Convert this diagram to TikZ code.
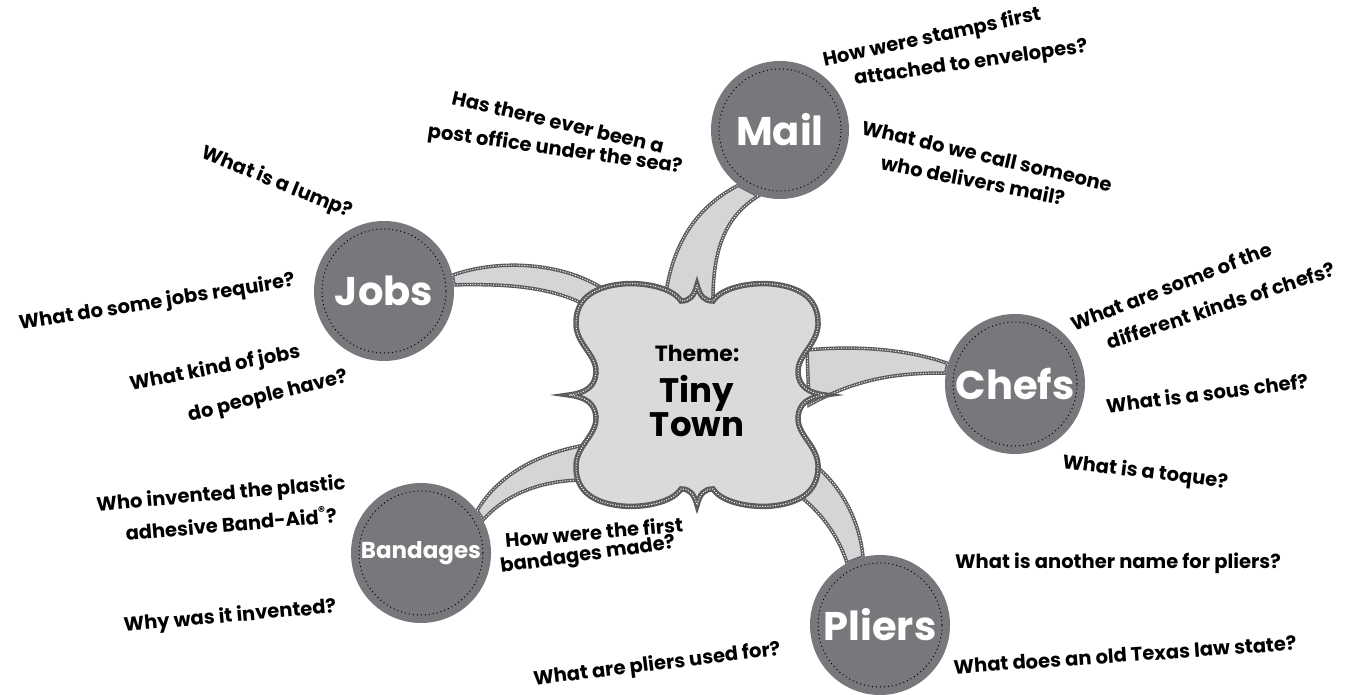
\documentclass[tikz,border=0pt]{standalone}
\usepackage{fontspec}
\setmainfont{Poppins}
\usetikzlibrary{positioning,backgrounds}
\definecolor{circgray}{HTML}{77787B}
\definecolor{cloudfill}{HTML}{D9DADC}
\definecolor{edgegray}{HTML}{5C5C5F}
\definecolor{spokefill}{HTML}{D4D5D7}

\begin{document}
\begin{tikzpicture}[x=1pt,y=1pt,
  topic/.style={circle,fill=circgray,inner sep=0pt,text=white,font=\fontsize{40}{44}\selectfont\bfseries},
  ring/.style={black,line width=1pt,dash pattern=on 1pt off 3pt},
  spoke/.style={fill=spokefill,draw=edgegray,line width=3.5pt},
  cloudline/.style={fill=cloudfill,draw=edgegray,line width=5.5pt},
  stitch/.style={draw=white,line width=1pt,dash pattern=on 1pt off 1.6pt},
  quest/.style={font=\fontsize{19.5}{22}\selectfont\bfseries,inner sep=0pt},
  theme/.style={font=\fontsize{#1}{#1}\selectfont\bfseries,inner sep=0pt,anchor=base}]
\useasboundingbox (0,0) rectangle (1348,695);
\clip (0,0) rectangle (1348,695);
\coordinate (hub) at (697,300);

\node[topic,minimum size=138pt] (mail) at (780,565) {Mail};
\node[topic,minimum size=140pt] (jobs) at (384,404) {Jobs};
\node[topic,minimum size=140pt] (chefs) at (1015,311) {Chefs};
\node[topic,minimum size=140pt,font=\fontsize{23}{26}\selectfont\bfseries] (band) at (421,142) {Bandages};
\node[topic,minimum size=140pt] (pliers) at (880,70) {Pliers};
\foreach \n/\r in {mail/61,jobs/62,chefs/62,band/62,pliers/62}
  \draw[ring] (\n.center) circle (\r);

\begin{scope}[on background layer]
\foreach \st in {spoke,stitch} {
\path[\st] ([shift={(-32,95)}]hub) .. controls (672,455) and (700,490) .. (mail.233)
  -- (mail.252) .. controls (728,480) and (712,450) .. ([shift={(16,90)}]hub) -- cycle;
\path[\st] (jobs.13) .. controls (500,437) and (570,433) .. ([shift={(-85,100)}]hub)
  -- ([shift={(-108,88)}]hub) .. controls (550,410) and (500,411) .. (jobs.5) -- cycle;
\path[\st] ([shift={(110,45)}]hub) .. controls (860,350) and (910,345) .. (chefs.163)
  -- (chefs.171) .. controls (900,322) and (860,318) .. ([shift={(112,-10)}]hub) -- cycle;
\path[\st] (band.37) .. controls (495,215) and (530,240) .. ([shift={(-112,-50)}]hub)
  -- ([shift={(-112,-85)}]hub) .. controls (540,215) and (505,200) .. (band.28) -- cycle;
\path[\st] ([shift={(96,-96)}]hub) .. controls (820,185) and (838,160) .. (pliers.118)
  -- (pliers.104) .. controls (860,170) and (845,205) .. ([shift={(118,-70)}]hub) -- cycle;
}
\foreach \st in {cloudline,stitch}
\path[\st,shift={(hub)}] (0,110) .. controls (3,99) and (7,94) .. (16,94)
  .. controls (25,108) and (55,113) .. (75,111) .. controls (105,108) and (122,95) .. (121,70)
  .. controls (120,50) and (100,40) .. (101,22) .. controls (102,8) and (112,2) .. (128,0)
  .. controls (112,-2) and (102,-8) .. (101,-22) .. controls (100,-40) and (120,-50) .. (121,-70)
  .. controls (122,-95) and (105,-108) .. (75,-111) .. controls (55,-113) and (25,-108) .. (16,-94)
  .. controls (7,-94) and (3,-99) .. (0,-110) .. controls (-3,-99) and (-7,-94) .. (-16,-94)
  .. controls (-25,-108) and (-55,-113) .. (-75,-111) .. controls (-105,-108) and (-122,-95) .. (-121,-70)
  .. controls (-120,-50) and (-100,-40) .. (-101,-22) .. controls (-102,-8) and (-112,-2) .. (-128,0)
  .. controls (-112,2) and (-102,8) .. (-101,22) .. controls (-100,40) and (-120,50) .. (-121,70)
  .. controls (-122,95) and (-105,108) .. (-75,111) .. controls (-55,113) and (-25,108) .. (-16,94)
  .. controls (-7,94) and (-3,99) .. (0,110) -- cycle;
\end{scope}

\node[theme=22] (themetag) at (697,333) {Theme:};
\node[theme=34] (tiny) [below=41pt of themetag.base,anchor=base] {Tiny};
\node[theme=34] (town) [below=34pt of tiny.base,anchor=base] {Town};

\node[quest,rotate=12] (qmaila) at (932,657) {How were stamps first};
\node[quest,rotate=8] (qmailb) at (971,631) {attached to envelopes?};
\node[quest,rotate=-13] (qmailc) at (987,539) {What do we call someone};
\node[quest,rotate=-11] (qmaild) at (973,515) {who delivers mail?};

\node[quest,rotate=-13] (qposta) at (558,573) {Has there ever been a};
\node[quest,rotate=-8] (qpostb) at (555,545) {post office under the sea?};

\node[quest,rotate=-22] (qjobsa) at (277,512) {What is a lump?};
\node[quest,rotate=9] (qjobsb) at (157,392) {What do some jobs require?};
\node[quest,rotate=11] (qjobsc) at (215,326) {What kind of jobs};
\node[quest,rotate=14] (qjobsd) at (268,298) {do people have?};

\node[quest,rotate=21] (qchefa) at (1171,409) {What are some of the};
\node[quest,rotate=18] (qchefb) at (1221,390) {different kinds of chefs?};
\node[quest,rotate=7] (qchefc) at (1207,302) {What is a sous chef?};
\node[quest,rotate=-7] (qchefd) at (1145,222) {What is a toque?};

\node[quest,rotate=5] (qbanda) at (221,200) {Who invented the plastic};
\node[quest,rotate=5] (qbandb) at (231,172) {adhesive Band-Aid\textsuperscript{®}?};
\node[quest,rotate=5] (qbandc) at (230,78) {Why was it invented?};
\node[quest,rotate=5] (qbandd) at (594,163) {How were the first};
\node[quest,rotate=8] (qbande) at (588,139) {bandages made?};

\node[quest] (qplia) at (1118,132) {What is another name for pliers?};
\node[quest,rotate=4] (qplib) at (1125,40) {What does an old Texas law state?};
\node[quest,rotate=7] (qplic) at (657,30) {What are pliers used for?};
\end{tikzpicture}
\end{document}
